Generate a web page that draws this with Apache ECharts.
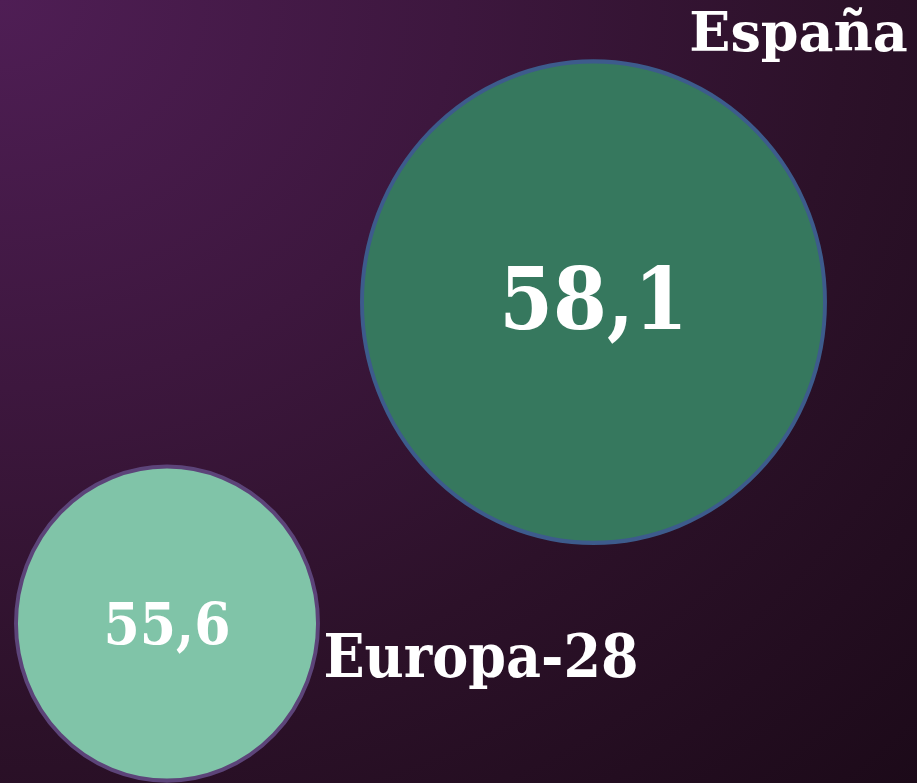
<!DOCTYPE html>
<html lang="es">
<head>
    <meta charset="UTF-8">
    <title>España vs Europa-28</title>
    <script src="https://cdn.jsdelivr.net/npm/echarts@6/dist/echarts.min.js"></script>
    <style>
        html, body {
            margin: 0;
            padding: 0;
            width: 917px;
            height: 783px;
            overflow: hidden;
        }
        #chart {
            width: 917px;
            height: 783px;
            background:
                radial-gradient(ellipse at 0% 0%, #4f1e55 0%, #3d173e 35%, #2c1129 65%, #1c0a19 100%);
        }
    </style>
</head>
<body>
    <div id="chart"></div>
    <script>
        // datos
        var regiones = ['Europa-28', 'España'];
        var valores = [55.6, 58.1];

        var relleno = ['#80c4a8', '#36785e'];
        var borde = ['#5c4479', '#3d5b8c'];

        var chart = echarts.init(document.getElementById('chart'));

        // tamaño del circulo segun el valor
        function tamano(v) {
            var w = 302 + (v - 55.6) * 64.4;
            return [w, w * 1.04];
        }

        var circulos = regiones.map(function (r, i) {
            return {
                value: [r, valores[i]],
                itemStyle: { color: relleno[i], borderColor: borde[i] },
                label: {
                    fontSize: i === 1 ? 86 : 58,
                    offset: [0, 5]
                }
            };
        });

        var nombres = regiones.map(function (r, i) {
            return {
                value: [r, valores[i]],
                label: {
                    fontFamily: i === 1 ? 'DejaVu Serif' : 'DejaVu Serif Condensed, DejaVu Serif',
                    fontSize: i === 1 ? 54 : 60
                }
            };
        });

        var option = {
            animation: false,
            grid: { left: 167, right: 323.5, top: 0, bottom: 0 },
            xAxis: {
                type: 'category',
                data: regiones,
                boundaryGap: false,
                show: false
            },
            yAxis: {
                type: 'value',
                min: 54.36,
                max: 60.45,
                show: false
            },
            series: [
                {
                    type: 'scatter',
                    data: circulos,
                    symbol: 'circle',
                    symbolSize: function (d) { return tamano(d[1]); },
                    itemStyle: { opacity: 1, borderWidth: 4 },
                    label: {
                        show: true,
                        position: 'inside',
                        color: '#ffffff',
                        opacity: 1,
                        fontWeight: 'bold',
                        fontFamily: 'DejaVu Serif Condensed, DejaVu Serif',
                        formatter: function (p) { return String(p.value[1]).replace('.', ','); }
                    }
                },
                {
                    type: 'scatter',
                    data: nombres,
                    symbolSize: 1,
                    itemStyle: { color: 'rgba(0,0,0,0)', opacity: 1 },
                    label: {
                        show: true,
                        position: 'inside',
                        color: '#ffffff',
                        opacity: 1,
                        fontWeight: 'bold',
                        formatter: function (p) { return p.value[0]; }
                    },
                    labelLayout: function (p) {
                        return p.dataIndex === 1
                            ? { dx: 205, dy: -265 }
                            : { dx: 314, dy: 38 };
                    }
                }
            ]
        };

        chart.setOption(option);
    </script>
</body>
</html>
